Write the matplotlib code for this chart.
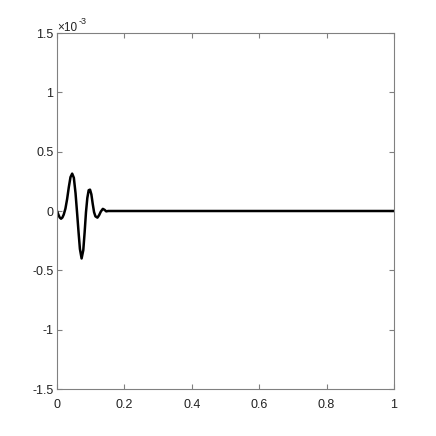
import matplotlib
matplotlib.use('Agg')
import matplotlib.pyplot as plt

plt.rcParams['font.family'] = ['Liberation Sans', 'DejaVu Sans']

# signal (values in units of 1e-3)
t = [0, 0.004, 0.008, 0.012, 0.016, 0.020, 0.025, 0.030, 0.035, 0.040,
     0.045, 0.050, 0.055, 0.060, 0.064, 0.068, 0.073, 0.078, 0.082, 0.086,
     0.090, 0.094, 0.098, 0.102, 0.106, 0.110, 0.114, 0.120, 0.125, 0.130,
     0.136, 0.141, 0.146, 0.152, 0.16, 1.0]
v = [0, -0.03, -0.055, -0.065, -0.055, -0.03, 0.02, 0.10, 0.20, 0.285,
     0.315, 0.28, 0.15, -0.03, -0.18, -0.32, -0.40, -0.33, -0.18, -0.01,
     0.11, 0.175, 0.18, 0.14, 0.06, -0.01, -0.045, -0.056, -0.035, -0.005,
     0.018, 0.01, -0.003, 0, 0, 0]
xticks = [0, 0.2, 0.4, 0.6, 0.8, 1]
xlabels = ['0', '0.2', '0.4', '0.6', '0.8', '1']
yticks = [-1.5, -1, -0.5, 0, 0.5, 1, 1.5]
ylabels = ['-1.5', '-1', '-0.5', '0', '0.5', '1', '1.5']

fig = plt.figure(figsize=(4.36, 4.36), dpi=100)
ax = fig.add_axes([57/436, 1 - 389/436, 337/436, 356/436])

ax.plot(t, v, color='black', lw=1.8)
ax.set_xlim(0, 1)
ax.set_ylim(-1.5, 1.5)
ax.set_xticks(xticks)
ax.set_xticklabels(xlabels)
ax.set_yticks(yticks)
ax.set_yticklabels(ylabels)

gray = '#808080'
for s in ax.spines.values():
    s.set_color(gray)
    s.set_linewidth(0.8)
ax.tick_params(direction='in', top=True, right=True, color=gray, length=3.5,
               labelsize=9, labelcolor='#222222')
ax.tick_params(axis='x', pad=7.5)
ax.tick_params(axis='y', pad=2.5)

# exponent label in the top-left corner
ax.text(0.002, 1.006, '\u00d710', transform=ax.transAxes,
        ha='left', va='baseline', fontsize=8.5, color='#222222')
ax.text(0.064, 1.026, '-3', transform=ax.transAxes,
        ha='left', va='baseline', fontsize=6.5, color='#222222')

fig.savefig('out.png', dpi=100)
